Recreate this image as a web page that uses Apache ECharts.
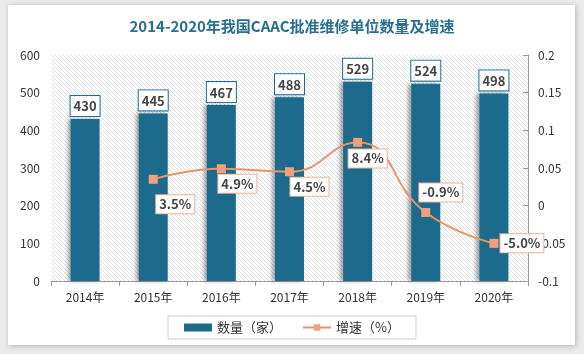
<!DOCTYPE html>
<html>
<head>
<meta charset="utf-8">
<script src="https://cdn.jsdelivr.net/npm/echarts@6/dist/echarts.min.js"></script>
<style>
  html, body { margin: 0; padding: 0; background: #ececec; }
  #main { width: 584px; height: 354px; }
</style>
</head>
<body>
<div id="main"></div>
<script>
// 数据
const years = ['2014年', '2015年', '2016年', '2017年', '2018年', '2019年', '2020年'];
const unitCount = [430, 445, 467, 488, 529, 524, 498];
const growthRate = [null, 0.035, 0.049, 0.045, 0.084, -0.009, -0.050];
const growthText = ['', '3.5%', '4.9%', '4.5%', '8.4%', '-0.9%', '-5.0%'];

// 每个增速标签的偏移（像素），只用于样式
const rateLabelOffset = [[0, 0], [22, 25], [16, 15], [20, 15], [10, 16], [15, -20], [28, 0]];

// 斜线底纹
function makeHatch() {
  const c = document.createElement('canvas');
  c.width = 4; c.height = 4;
  const ctx = c.getContext('2d');
  ctx.fillStyle = '#ffffff';
  ctx.fillRect(0, 0, 4, 4);
  ctx.fillStyle = '#dedede';
  for (let i = 0; i < 4; i++) ctx.fillRect(i, i, 1, 1);
  return c;
}

const chart = echarts.init(document.getElementById('main'));
const hatch = { image: makeHatch(), repeat: 'repeat' };

const rateData = growthRate.map(function (v, i) {
  return {
    value: v,
    label: { offset: rateLabelOffset[i], formatter: growthText[i] }
  };
});

const option = {
  backgroundColor: '#ececec',
  textStyle: { fontFamily: 'Noto Sans CJK SC, DejaVu Sans, sans-serif' },
  graphic: [{
    type: 'rect',
    z: -10,
    shape: { x: 8, y: 5, width: 567, height: 340 },
    style: { fill: '#ffffff', shadowBlur: 6, shadowColor: 'rgba(0,0,0,0.25)', shadowOffsetX: 1, shadowOffsetY: 1 }
  }],
  title: {
    text: '2014-2020年我国CAAC批准维修单位数量及增速',
    left: 'center',
    top: 14,
    textStyle: { color: '#2b6f8e', fontSize: 15, fontWeight: 'bold', fontFamily: 'Noto Sans CJK SC, sans-serif' }
  },
  grid: {
    left: 51, right: 56, top: 55, bottom: 73,
    show: true, backgroundColor: hatch, borderWidth: 0
  },
  legend: {
    bottom: 15,
    left: 'center',
    itemGap: 20,
    padding: [5, 16, 5, 16],
    borderColor: '#d0d0d0',
    borderWidth: 1,
    textStyle: { fontSize: 13, color: '#333' },
    data: [
      { name: '数量（家）', icon: 'rect', itemWidth: 26, itemHeight: 6 },
      { name: '增速（%）' }
    ],
    itemWidth: 28,
    itemHeight: 8
  },
  xAxis: {
    type: 'category',
    data: years,
    axisLine: { lineStyle: { color: '#999' } },
    axisTick: { show: true, length: 5, lineStyle: { color: '#999' } },
    axisLabel: { color: '#333', fontSize: 12, margin: 10 }
  },
  yAxis: [{
    type: 'value',
    min: 0, max: 600, interval: 100,
    splitLine: { show: false },
    axisLine: { show: false },
    axisLabel: { color: '#333', fontSize: 12, margin: 11 }
  }, {
    type: 'value',
    min: -0.1, max: 0.2, interval: 0.05,
    splitLine: { show: false },
    axisLine: { show: true, lineStyle: { color: '#999' } },
    axisTick: { show: true, inside: true, length: 5, lineStyle: { color: '#999' } },
    axisLabel: {
      color: '#333', fontSize: 12, margin: 10,
      formatter: function (v) { return String(Math.round(v * 100) / 100); }
    }
  }],
  series: [{
    name: '数量（家）',
    type: 'bar',
    data: unitCount,
    barWidth: 29,
    itemStyle: {
      color: '#1c6b8d',
      shadowColor: 'rgba(0,0,0,0.35)', shadowBlur: 4, shadowOffsetX: -3, shadowOffsetY: 0
    },
    label: {
      show: true,
      position: 'top',
      distance: 3,
      color: '#444',
      fontSize: 13,
      fontWeight: 'bold',
      backgroundColor: '#ffffff',
      borderColor: '#1c6b8d',
      borderWidth: 1,
      padding: [4, 3, 3, 3]
    }
  }, {
    name: '增速（%）',
    type: 'line',
    yAxisIndex: 1,
    data: rateData,
    smooth: true,
    symbol: 'rect',
    symbolSize: 9,
    lineStyle: { color: '#e6946c', width: 2 },
    itemStyle: { color: '#f0a07a' },
    label: {
      show: true,
      position: 'inside',
      color: '#444',
      fontSize: 13,
      fontWeight: 'bold',
      backgroundColor: '#ffffff',
      borderColor: '#e8b49a',
      borderWidth: 1,
      padding: [3, 3, 2, 3]
    }
  }]
};

chart.setOption(option);
</script>
</body>
</html>
